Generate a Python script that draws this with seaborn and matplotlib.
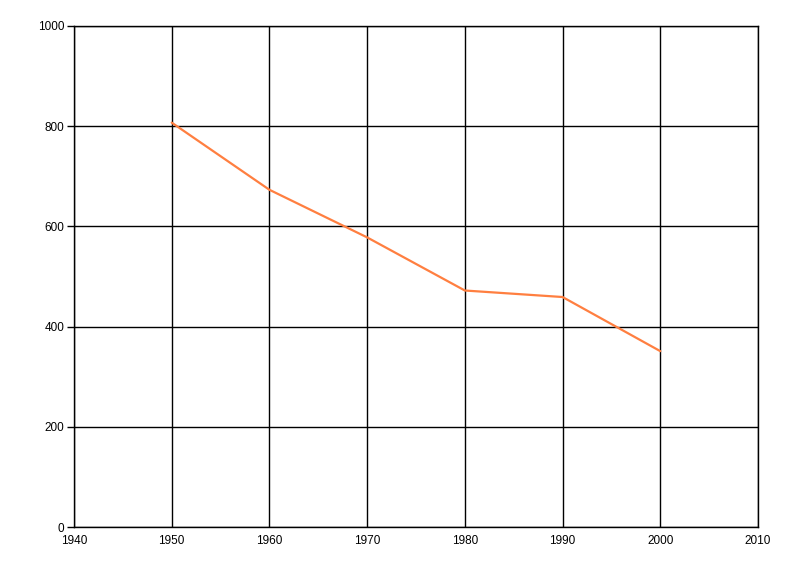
import pandas as pd
import seaborn as sns
import matplotlib
matplotlib.use("Agg")
import matplotlib.pyplot as plt

years = [1950, 1960, 1970, 1980, 1990, 2000]
values = [807, 673, 578, 472, 459, 351]

sns.set_style("white")
plt.rcParams['font.family'] = ['Liberation Sans', 'DejaVu Sans']

df = pd.DataFrame({"year": years, "value": values})

fig = plt.figure(figsize=(8, 5.76), dpi=100)
ax = fig.add_axes([0.0925, 0.085, 0.855, 0.87])
sns.lineplot(data=df, x="year", y="value", color="#ff7f40", linewidth=1.6, ax=ax)

ax.set_xlim(1940, 2010)
ax.set_ylim(0, 1000)
ax.set_xticks(range(1940, 2011, 10))
ax.set_yticks(range(0, 1001, 200))
ax.grid(True, color="black", linewidth=1)
ax.set_axisbelow(True)
for s in ax.spines.values():
    s.set_color("black")
    s.set_linewidth(1)
ax.tick_params(axis="y", length=5, width=1, color="black", labelcolor="black", labelsize=8.5, pad=2, left=True)
ax.tick_params(axis="x", length=0, labelcolor="black", labelsize=8.5, pad=6, bottom=True)
ax.set_xlabel("")
ax.set_ylabel("")

fig.savefig("out.png", dpi=100)
